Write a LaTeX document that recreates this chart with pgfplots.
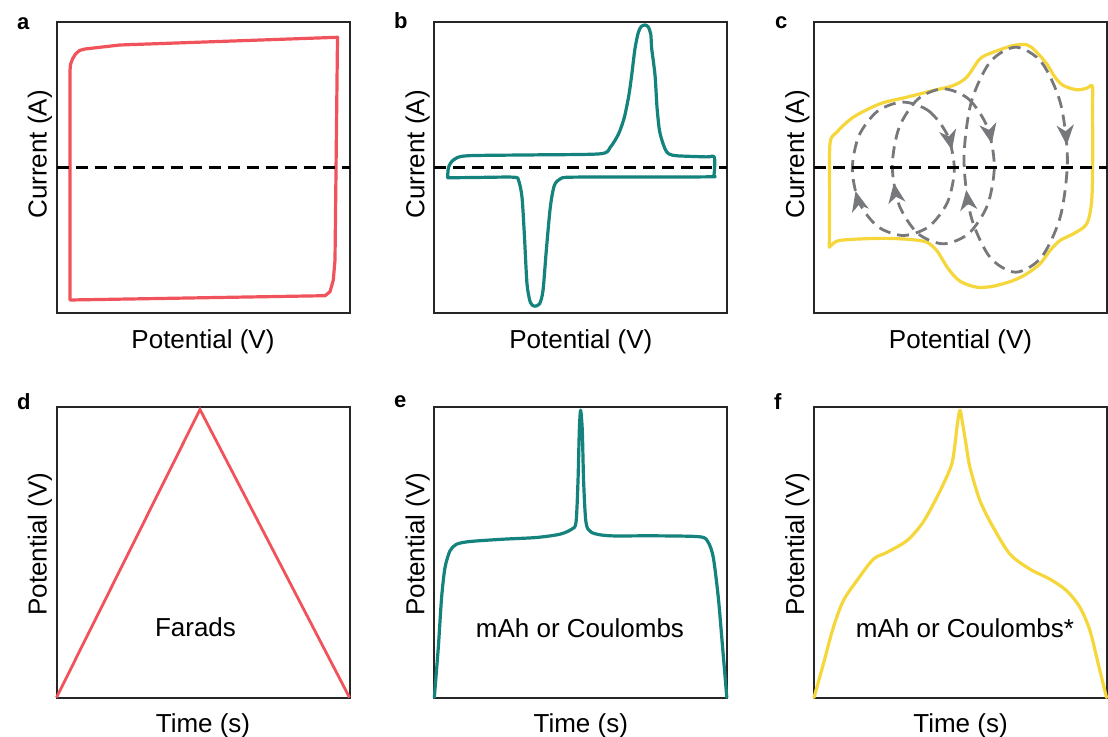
\documentclass[border=0pt]{standalone}
\usepackage{fontspec}
\setmainfont{Liberation Sans}
\usepackage{pgfplots}
\pgfplotsset{compat=1.18}
\usetikzlibrary{arrows.meta,decorations.markings}

\definecolor{cvred}{HTML}{F0535B}
\definecolor{cvteal}{HTML}{14827D}
\definecolor{cvyellow}{HTML}{F5D73C}
\definecolor{loopgray}{HTML}{77787C}

\tikzset{
  tag/.style={font=\fontsize{11}{13}\selectfont\bfseries, anchor=base west},
  loopmarks/.style 2 args={decoration={markings,
    mark=at position #1 with {\arrow{Stealth[length=10pt,width=8.5pt,inset=3pt]}},
    mark=at position #2 with {\arrow{Stealth[length=10pt,width=8.5pt,inset=3pt]}}}},
}
\pgfplotsset{
  panel/.style={
    scale only axis, width=146.5pt, height=145.5pt,
    xmin=0, xmax=293,
    xtick=\empty, ytick=\empty,
    axis line style={line width=1pt, black!85},
    clip=false, anchor=south west,
    label style={font=\fontsize{13}{15}\selectfont},
    xlabel style={at={(axis description cs:0.5,-0.055)}, anchor=north, inner sep=0pt},
  },
  cvpanel/.style={panel, ymin=-145.5, ymax=145.5,
    xlabel={Potential (V)}, ylabel={Current (A)},
    ylabel style={at={(axis description cs:-0.014,0.545)}, anchor=south, inner sep=0pt}},
  gcdpanel/.style={panel, ymin=0, ymax=291,
    xlabel={Time (s)}, ylabel={Potential (V)},
    ylabel style={at={(axis description cs:-0.014,0.527)}, anchor=south, inner sep=0pt}},
  zero/.style={black, line width=1.25pt, dash pattern=on 6pt off 3.5pt},
  curve/.style={line width=1.6pt, line join=round, line cap=round},
  loop/.style={loopgray, line width=1.4pt, dash pattern=on 6pt off 3.5pt, smooth cycle,
    postaction={decorate}},
}

\begin{document}
\begin{tikzpicture}
\path[use as bounding box] (0,0) rectangle (554pt,-368.5pt);

% a: capacitive CV
\begin{axis}[cvpanel, at={(28.25pt,-156.5pt)}]
\addplot[cvred, curve] coordinates {
 (13.5,-132.5) (268.5,-128.2) (273.5,-124.2) (276.8,-112.5) (278.5,-92.5)
 (281,130.2) (63.5,122.5) (28.5,118.5) (23,117) (19,113.5) (16,108.5) (14,103)
 (13.5,97) (13.5,-132.5)};
\addplot[zero] coordinates {(0,0) (293,0)};
\end{axis}

% b: battery-type CV
\begin{axis}[cvpanel, at={(217.15pt,-156.5pt)}]
\addplot[cvteal, curve, smooth, tension=0.45] coordinates {
 (13.3,-10.3) (14.3,0.3) (19.3,7.7) (32.7,11.7) (100,12.6) (166,13.7)
 (176,20.3) (184.3,33.7) (190,50) (194.5,72) (197.4,92.5) (200.7,119)
 (204,135) (207,141) (210.7,142.5) (214,140.5) (216.5,133) (217.4,119)
 (220.7,92.5) (222.7,60.3) (225,38) (227.7,27) (231,18) (234.3,13.7)
 (242.7,11.7) (272,10.6) (280,10.3) (279.6,-7.5) (275,-9.3) (200,-9.5)
 (136,-9.7) (126,-11.3) (120,-18) (116,-39.7) (112,-83) (108.7,-123)
 (105.3,-136.3) (100,-138.7) (96,-134.7) (92.7,-116.3) (90,-66.3)
 (87.7,-29.7) (84.3,-13) (79.3,-9.7) (40,-10) (13.3,-10.3)};
\addplot[zero] coordinates {(0,0) (293,0)};
\end{axis}

% c: pseudocapacitive CV with redox loops
\begin{axis}[cvpanel, at={(407pt,-156.5pt)}]
\addplot[cvyellow, curve, smooth, tension=0.5] coordinates {
 (15.3,-79.7) (15.6,-30) (16,23.7) (22.7,35.3) (39.3,50.3) (66,63.7)
 (92.7,70.3) (119.3,77) (139.3,82) (152.7,90.3) (166,108.7) (179.3,115.3)
 (199.3,122) (212.7,122.7) (221,117) (232.7,103.7) (241,90.3) (249.3,82)
 (262.7,77.7) (272.7,79.3) (278.3,81.3) (278.5,60) (278.7,13.7) (277.7,-33)
 (272.7,-56.3) (259.3,-66.3) (246,-73) (236,-83) (226,-96.3) (212.7,-106.3)
 (199.3,-113) (179.3,-118.7) (162.7,-119.7) (146,-113.7) (134.3,-101.3)
 (122.7,-83) (112.7,-74.7) (99.3,-72.3) (79.3,-71) (59.3,-71) (36,-72)
 (22.7,-73.7) (15.3,-79.7)};
\addplot[loop, loopmarks={0.125}{0.615}] coordinates {
 (89.3,65.4) (114.8,56.5) (133.5,32.1) (140.3,-1.3) (133.5,-34.7)
 (114.8,-59.1) (89.3,-68.0) (63.8,-59.1) (45.1,-34.7) (38.3,-1.3)
 (45.1,32.1) (63.8,56.5)};
\addplot[loop, loopmarks={0.125}{0.64}] coordinates {
 (129.3,78.7) (154.8,68.3) (173.5,39.95) (180.3,1.2) (173.5,-37.55)
 (154.8,-65.9) (129.3,-76.3) (103.8,-65.9) (85.1,-37.55) (78.3,1.2)
 (85.1,39.95) (103.8,68.3)};
\addplot[loop, loopmarks={0.165}{0.635}] coordinates {
 (201.7,120.3) (227.55,105.2) (246.5,64.05) (253.4,7.8) (246.5,-48.45)
 (227.55,-89.6) (201.7,-104.7) (175.85,-89.6) (156.9,-48.45) (150.0,7.8)
 (156.9,64.05) (175.85,105.2)};
\addplot[zero] coordinates {(0,0) (293,0)};
\end{axis}

% d: capacitive GCD
\begin{axis}[gcdpanel, at={(28.25pt,-348.75pt)}]
\addplot[cvred, line width=1.4pt, line join=miter] coordinates {(0,0) (143.5,288) (293,0)};
\node[font=\fontsize{13}{15}\selectfont, anchor=base] at (axis cs:139,61) {Farads};
\end{axis}

% e: battery-type GCD
\begin{axis}[gcdpanel, at={(217.15pt,-348.75pt)}]
\addplot[cvteal, curve, smooth, tension=0.45] coordinates {
 (0,0) (4,50) (7.3,100) (10.7,130) (15.7,146.7) (22.3,153.3) (35.7,156)
 (69,158.3) (102.3,160) (125.7,163.3) (137.3,168.3) (141.7,175) (143.7,216.7)
 (145,266.7) (146.3,287.3) (148,266.7) (149.3,216.7) (151.7,175) (157.3,165)
 (175.7,161.7) (219,161.7) (265.7,160.7) (274,155) (279,140) (284,100)
 (288.3,50) (292.5,0)};
\node[font=\fontsize{13}{15}\selectfont, anchor=base] at (axis cs:145.7,60) {mAh or Coulombs};
\end{axis}

% f: pseudocapacitive GCD
\begin{axis}[gcdpanel, at={(407pt,-348.75pt)}]
\addplot[cvyellow, curve, smooth, tension=0.5] coordinates {
 (0,0) (9.3,33.3) (19.3,70) (29.3,96.7) (42.7,116.7) (59.3,138.3) (72.7,145)
 (92.7,156.7) (107.7,173.3) (119.3,193.3) (129.3,213.3) (137.7,233.3)
 (141,253.3) (143.3,273.3) (146,287.3) (148.7,273.3) (152,253.3) (156,230)
 (166,196.7) (179.3,170) (196,143.3) (216,128.3) (236,118.3) (252.7,106.7)
 (266,90) (276,66.7) (284.3,33.3) (292.5,0)};
\node[font=\fontsize{13}{15}\selectfont, anchor=base] at (axis cs:151,60) {mAh or Coulombs*};
\end{axis}

\node[tag] at (5pt,-15pt) {a};
\node[tag] at (193.5pt,-14.2pt) {b};
\node[tag] at (384pt,-14.5pt) {c};
\node[tag] at (5pt,-205pt) {d};
\node[tag] at (193.5pt,-204pt) {e};
\node[tag] at (383.5pt,-204.5pt) {f};
\end{tikzpicture}
\end{document}
